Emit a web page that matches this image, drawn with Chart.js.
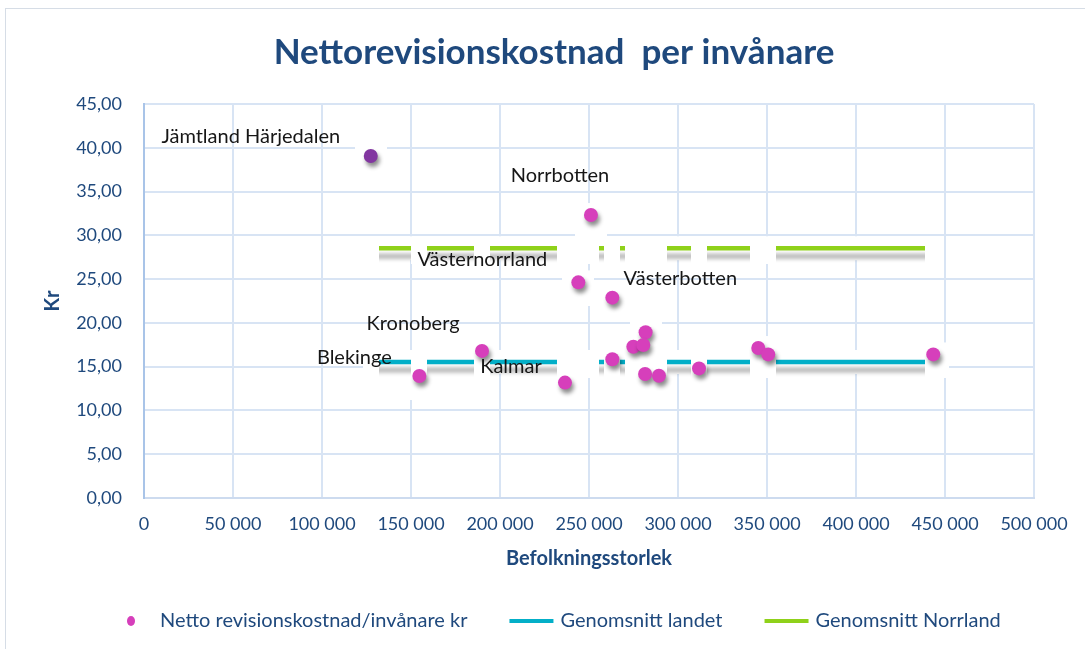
<!DOCTYPE html>
<html lang="sv">
<head>
<meta charset="utf-8">
<title>Nettorevisionskostnad per invånare</title>
<script src="https://cdn.jsdelivr.net/npm/chart.js@4.4.1/dist/chart.umd.min.js"></script>
<style>
  html, body { margin: 0; padding: 0; background: #fff; }
  #wrap { position: relative; width: 1085px; height: 649px; overflow: hidden; }
  #frame { position: absolute; left: 5px; top: 8px; width: 1100px; height: 700px;
           border: 1px solid #d6dde6; box-sizing: border-box; }
  #chart { position: absolute; left: 0; top: 0; }
</style>
</head>
<body>
<div id="wrap">
  <div id="frame"></div>
  <canvas id="chart" width="1085" height="649"></canvas>
</div>
<script>
/* Nettorevisionskostnad per invånare – regioner, befolkning mot kr/invånare */

const regions = ['Jämtland Härjedalen', 'Norrbotten', 'Västernorrland', 'Västerbotten',
                 'Kronoberg', 'Blekinge', 'Kalmar', '', '', '', '', '', '', '', '', '', ''];
const population = [127400, 251100, 244000, 263100, 189900, 154700, 236500, 263100, 274900,
                    281800, 280500, 281500, 289300, 311800, 345100, 350700, 443400];
const costPerCapita = [39.06, 32.32, 24.63, 22.88, 16.80, 13.93, 13.18, 15.84, 17.28,
                       18.93, 17.47, 14.16, 13.97, 14.80, 17.13, 16.40, 16.40];

const avgLandet = 15.53;
const avgNorrland = 28.52;

const xTickValues = [0, 50000, 100000, 150000, 200000, 250000, 300000, 350000, 400000, 450000, 500000];
const yTickValues = [0, 5, 10, 15, 20, 25, 30, 35, 40, 45];

const seriesNames = ['Netto revisionskostnad/invånare kr', 'Genomsnitt landet', 'Genomsnitt Norrland'];
const chartTitle = 'Nettorevisionskostnad  per invånare';
const highlighted = 'Jämtland Härjedalen';

const colors = {
  point:    '#d63fbb',
  purple:   '#8236a0',
  landet:   '#03afc8',
  norrland: '#8fd11a',
  navy:     '#1f497d',
  grid:     '#d8e4f4',
  axisY:    '#a9c4e8',
  axisX:    '#cddbef',
  label:    '#161616'
};

const FONT = 'Lato, "Open Sans", sans-serif';

// label placement relative to the point: [center dx, baseline dy]
const labelOffsets = {
  'Jämtland Härjedalen': [-120, -13],
  'Norrbotten':          [-31, -33],
  'Västernorrland':      [-96, -16],
  'Västerbotten':        [68, -13],
  'Kronoberg':           [-69, -21],
  'Blekinge':            [-65, -12],
  'Kalmar':              [-54, -10]
};

const points = population.map((x, i) => ({ x, y: costPerCapita[i], name: regions[i] }));
const sortedX = population.slice().sort((a, b) => a - b);
const landetLine = sortedX.map(x => ({ x, y: avgLandet }));
const norrLine = sortedX.map(x => ({ x, y: avgNorrland }));

// white patch behind each marker (Excel leaves one under every point)
function whitePatch(w, above, below) {
  const c = document.createElement('canvas');
  const h = 2 * Math.max(above, below);
  c.width = w; c.height = h;
  const g = c.getContext('2d');
  g.fillStyle = '#fff';
  g.fillRect(0, h / 2 - above, w, above + below);
  return c;
}

const pointPatch = whitePatch(32, 12, 24);
const linePatch = whitePatch(16, 8, 16);

const shadowPlugin = {
  id: 'shadows',
  beforeDatasetDraw(chart, args) {
    const kind = chart.data.datasets[args.index].shadow;
    if (!kind) return;
    const ctx = chart.ctx;
    ctx.save();
    if (kind === 'line') {
      ctx.shadowColor = 'rgba(0,0,0,0.33)';
      ctx.shadowBlur = 4;
      ctx.shadowOffsetX = 0;
      ctx.shadowOffsetY = 8;
    } else {
      ctx.shadowColor = 'rgba(0,0,0,0.45)';
      ctx.shadowBlur = 4;
      ctx.shadowOffsetX = 2;
      ctx.shadowOffsetY = 4;
    }
  },
  afterDatasetDraw(chart, args) {
    if (chart.data.datasets[args.index].shadow) chart.ctx.restore();
  }
};

const labelPlugin = {
  id: 'pointLabels',
  afterDatasetsDraw(chart) {
    const ctx = chart.ctx;
    const xs = chart.scales.x, ys = chart.scales.y;
    ctx.save();
    ctx.font = '20px ' + FONT;
    ctx.fillStyle = colors.label;
    ctx.textAlign = 'center';
    ctx.textBaseline = 'alphabetic';
    points.forEach(p => {
      const off = labelOffsets[p.name];
      if (!off) return;
      ctx.fillText(p.name, xs.getPixelForValue(p.x) + off[0], ys.getPixelForValue(p.y) + off[1]);
    });
    ctx.restore();
  }
};

const decorPlugin = {
  id: 'decor',
  afterDraw(chart) {
    const ctx = chart.ctx;
    ctx.save();
    // title
    ctx.font = 'bold 35px ' + FONT;
    ctx.fillStyle = colors.navy;
    ctx.textAlign = 'center';
    ctx.textBaseline = 'alphabetic';
    ctx.fillText(chartTitle, 554, 64);

    // legend
    const y = 621;
    let x = 111;
    ctx.font = '20px ' + FONT;
    ctx.textAlign = 'left';
    ctx.textBaseline = 'middle';
    const marks = ['dot', colors.landet, colors.norrland];
    seriesNames.forEach((name, i) => {
      if (marks[i] === 'dot') {
        ctx.fillStyle = colors.point;
        ctx.beginPath();
        ctx.ellipse(x + 20, y, 4, 5, 0, 0, Math.PI * 2);
        ctx.fill();
      } else {
        ctx.strokeStyle = marks[i];
        ctx.lineWidth = 4;
        ctx.beginPath();
        ctx.moveTo(x, y);
        ctx.lineTo(x + 44, y);
        ctx.stroke();
      }
      ctx.fillStyle = colors.navy;
      const tx = x + (i === 0 ? 49 : 51);
      ctx.fillText(name, tx, y);
      x = tx + ctx.measureText(name).width + 42;
    });
    ctx.restore();
  }
};

const canvas = document.getElementById('chart');

new Chart(canvas, {
  type: 'scatter',
  data: {
    datasets: [
      {
        label: seriesNames[0],
        data: points,
        pointRadius: 7,
        pointHoverRadius: 7,
        borderWidth: 0,
        backgroundColor: c => (c.raw && c.raw.name === highlighted) ? colors.purple : colors.point,
        shadow: 'point',
        order: 0
      },
      { data: landetLine, showLine: false, pointStyle: linePatch, pointRadius: 8, order: 1 },
      { data: norrLine, showLine: false, pointStyle: linePatch, pointRadius: 8, order: 1 },
      {
        label: seriesNames[1],
        data: landetLine, showLine: true, pointRadius: 0,
        borderColor: colors.landet, borderWidth: 4.5, borderCapStyle: 'butt',
        shadow: 'line', order: 2
      },
      {
        label: seriesNames[2],
        data: norrLine, showLine: true, pointRadius: 0,
        borderColor: colors.norrland, borderWidth: 4.5, borderCapStyle: 'butt',
        shadow: 'line', order: 2
      },
      {
        data: landetLine, showLine: true, pointRadius: 0,
        borderColor: '#fff', borderWidth: 24, borderCapStyle: 'butt', order: 3
      },
      {
        data: norrLine, showLine: true, pointRadius: 0,
        borderColor: '#fff', borderWidth: 24, borderCapStyle: 'butt', order: 3
      },
      { data: points, showLine: false, pointStyle: pointPatch, pointRadius: 10, order: 4 }
    ]
  },
  options: {
    responsive: false,
    animation: false,
    devicePixelRatio: 1,
    events: [],
    layout: { padding: { top: 104, left: 0, right: 51, bottom: 78 } },
    plugins: {
      legend: { display: false },
      title: { display: false },
      tooltip: { enabled: false }
    },
    scales: {
      x: {
        type: 'linear',
        min: 0,
        max: 500000,
        afterBuildTicks: s => { s.ticks = xTickValues.map(v => ({ value: v })); },
        afterFit: s => { s.height = 73; },
        grid: { color: colors.grid, lineWidth: 2, drawTicks: false },
        border: { color: colors.axisX, width: 2 },
        ticks: {
          padding: 15,
          color: colors.navy,
          font: { family: FONT, size: 18 },
          maxRotation: 0,
          autoSkip: false,
          callback: v => String(v).replace(/\B(?=(\d{3})+(?!\d))/g, ' ')
        },
        title: {
          display: true,
          text: 'Befolkningsstorlek',
          color: colors.navy,
          font: { family: FONT, size: 20, weight: 'bold' },
          padding: { top: 0, bottom: 0 }
        }
      },
      y: {
        min: 0,
        max: 45,
        afterBuildTicks: s => { s.ticks = yTickValues.map(v => ({ value: v })); },
        afterFit: s => { s.width = 144; },
        grid: { color: colors.grid, lineWidth: 2, drawTicks: false },
        border: { color: colors.axisY, width: 2 },
        ticks: {
          padding: 22,
          color: colors.navy,
          font: { family: FONT, size: 18 },
          callback: v => Number(v).toFixed(2).replace('.', ',')
        },
        title: {
          display: true,
          text: 'Kr',
          color: colors.navy,
          font: { family: FONT, size: 20, weight: 'bold' },
          padding: { top: 41, bottom: 0 }
        }
      }
    }
  },
  plugins: [shadowPlugin, labelPlugin, decorPlugin]
});
</script>
</body>
</html>
